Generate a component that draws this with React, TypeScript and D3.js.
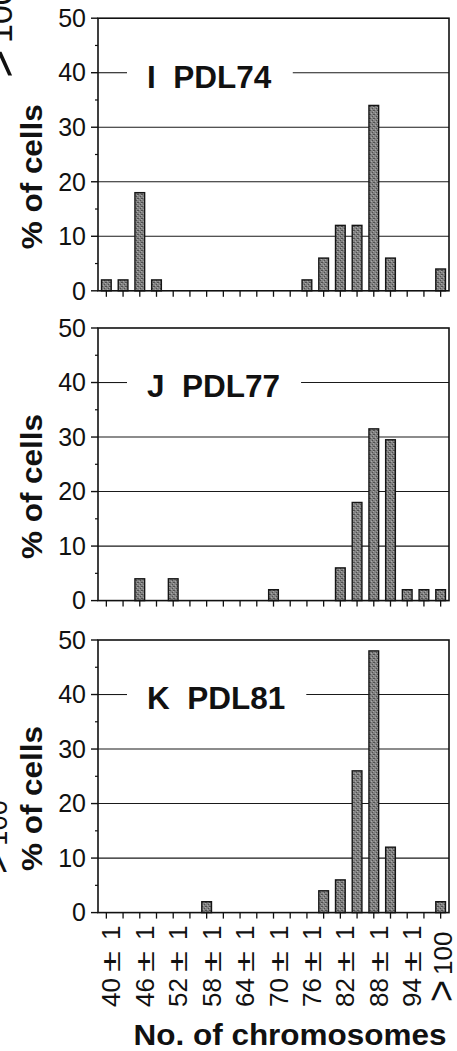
import React, { useEffect, useRef } from "react";
import * as d3 from "d3";

const WIDTH = 457;
const HEIGHT = 1051;
const FONT = "'Liberation Sans', Arial, Helvetica, sans-serif";

// Chromosome-number classes (each class is "n ± 1", last is "> 100")
const categories = [
  "40", "43", "46", "49", "52", "55", "58", "61", "64", "67", "70",
  "73", "76", "79", "82", "85", "88", "91", "94", "97", ">100",
];

// % of cells in each class
const pdl74 = [2, 2, 18, 2, 0, 0, 0, 0, 0, 0, 0, 0, 2, 6, 12, 12, 34, 6, 0, 0, 4];
const pdl77 = [0, 0, 4, 0, 4, 0, 0, 0, 0, 0, 2, 0, 0, 0, 6, 18, 31.5, 29.5, 2, 2, 2];
const pdl81 = [0, 0, 0, 0, 0, 0, 2, 0, 0, 0, 0, 0, 0, 4, 6, 26, 48, 12, 0, 0, 2];

const panelLetters = ["I", "J", "K"];
const panelNames = ["PDL74", "PDL77", "PDL81"];
const panelSeries = [pdl74, pdl77, pdl81];

const yTicks = [0, 10, 20, 30, 40, 50];
const yMinorTicks = [5, 15, 25, 35, 45];
const gridValues = [10, 20, 30];
const labelGridValue = 40;
const yTitle = "% of cells";
const xTitle = "No. of chromosomes";

const panelTops = [18.2, 328, 640];
const plotH = 272.6;
const left = 98;
const right = 449;

type Sel = d3.Selection<any, any, any, any>;

function categoryLabel(parent: Sel, cat: string, baseX: number, bottom: number, scale: number) {
  const g = parent
    .append("g")
    .attr("transform", `translate(${baseX},${bottom}) rotate(-90) scale(${scale})`)
    .attr("font-family", FONT)
    .attr("fill", "#111");
  if (cat.startsWith(">")) {
    g.append("text")
      .attr("x", 0)
      .attr("y", 3)
      .attr("font-size", 40)
      .attr("textLength", 22)
      .attr("lengthAdjust", "spacingAndGlyphs")
      .text(">");
    g.append("text").attr("x", 27).attr("y", 0).attr("font-size", 26).text(cat.slice(1));
  } else {
    g.append("text").attr("x", 0).attr("font-size", 26).text(cat);
    g.append("text")
      .attr("x", 35)
      .attr("font-size", 26)
      .attr("textLength", 21)
      .attr("lengthAdjust", "spacingAndGlyphs")
      .text("±");
    g.append("text").attr("x", 67).attr("font-size", 26).text("1");
  }
}

export default function App() {
  const ref = useRef<SVGSVGElement | null>(null);

  useEffect(() => {
    if (!ref.current) return;
    const svg = d3.select(ref.current);
    svg.selectAll("*").remove();

    // halftone-like fill for the bars
    const defs = svg.append("defs");
    const pat = defs
      .append("pattern")
      .attr("id", "stipple")
      .attr("width", 4)
      .attr("height", 4)
      .attr("patternUnits", "userSpaceOnUse");
    pat.append("rect").attr("width", 4).attr("height", 4).attr("fill", "#828282");
    [[0, 0], [2, 2], [1, 2]].forEach(([px, py]) =>
      pat.append("rect").attr("x", px).attr("y", py).attr("width", 1).attr("height", 1).attr("fill", "#4f4f4f")
    );
    [[3, 1], [1, 3]].forEach(([px, py]) =>
      pat.append("rect").attr("x", px).attr("y", py).attr("width", 1).attr("height", 1).attr("fill", "#a8a8a8")
    );

    const x = d3
      .scaleBand<string>()
      .domain(categories)
      .range([left, right])
      .paddingInner(0.42)
      .paddingOuter(0.21);
    const cx = (c: string) => (x(c) as number) + x.bandwidth() / 2;

    panelSeries.forEach((vals, p) => {
      const top = panelTops[p];
      const y = d3.scaleLinear().domain([0, 50]).range([top + plotH, top]);
      const g = svg.append("g");

      // horizontal gridlines
      gridValues.forEach((v) =>
        g.append("line")
          .attr("x1", left).attr("x2", right)
          .attr("y1", y(v)).attr("y2", y(v))
          .attr("stroke", "#1a1a1a").attr("stroke-width", 1.1)
      );

      // panel label sitting on the 40% gridline
      const label = g
        .append("text")
        .attr("x", 147)
        .attr("y", y(labelGridValue) + 14.8)
        .attr("font-family", FONT)
        .attr("font-weight", "bold")
        .attr("font-size", 31.5)
        .attr("fill", "#111")
        .text(`${panelLetters[p]}\u00a0\u00a0${panelNames[p]}`);
      const bb = (label.node() as SVGTextElement).getBBox();
      g.append("line")
        .attr("x1", left).attr("x2", 127)
        .attr("y1", y(labelGridValue)).attr("y2", y(labelGridValue))
        .attr("stroke", "#1a1a1a").attr("stroke-width", 1.1);
      g.append("line")
        .attr("x1", bb.x + bb.width + 21).attr("x2", right)
        .attr("y1", y(labelGridValue)).attr("y2", y(labelGridValue))
        .attr("stroke", "#1a1a1a").attr("stroke-width", 1.1);

      // bars
      g.selectAll("rect.bar")
        .data(categories.map((c, i) => ({ c, v: vals[i] })).filter((d) => d.v > 0))
        .join("rect")
        .attr("class", "bar")
        .attr("x", (d) => x(d.c) as number)
        .attr("y", (d) => y(d.v))
        .attr("width", x.bandwidth())
        .attr("height", (d) => y(0) - y(d.v))
        .attr("fill", "url(#stipple)")
        .attr("stroke", "#151515")
        .attr("stroke-width", 1.4);

      // frame (axis on left and bottom, border on top and right)
      g.append("rect")
        .attr("x", left).attr("y", top)
        .attr("width", right - left).attr("height", plotH)
        .attr("fill", "none").attr("stroke", "#111").attr("stroke-width", 1.6);

      // y ticks
      yTicks.forEach((v) =>
        g.append("line")
          .attr("x1", left - 7).attr("x2", left)
          .attr("y1", y(v)).attr("y2", y(v))
          .attr("stroke", "#111").attr("stroke-width", 1.4)
      );
      yMinorTicks.forEach((v) =>
        g.append("line")
          .attr("x1", left - 3).attr("x2", left)
          .attr("y1", y(v)).attr("y2", y(v))
          .attr("stroke", "#111").attr("stroke-width", 1.2)
      );
      yTicks.forEach((v) =>
        g.append("text")
          .attr("x", 86)
          .attr("y", y(v))
          .attr("dy", "0.35em")
          .attr("text-anchor", "end")
          .attr("font-family", FONT)
          .attr("font-size", 25)
          .attr("fill", "#111")
          .text(v)
      );

      // x ticks
      categories.forEach((c) =>
        g.append("line")
          .attr("x1", cx(c)).attr("x2", cx(c))
          .attr("y1", y(0)).attr("y2", y(0) + 6)
          .attr("stroke", "#111").attr("stroke-width", 1.3)
      );

      // y title
      g.append("text")
        .attr("transform", `translate(42,${top + 158.5}) rotate(-90)`)
        .attr("text-anchor", "middle")
        .attr("font-family", FONT)
        .attr("font-weight", "bold")
        .attr("font-size", 30)
        .attr("textLength", 145)
        .attr("lengthAdjust", "spacingAndGlyphs")
        .attr("fill", "#111")
        .text(yTitle);
    });

    // category labels under the bottom panel (every other class)
    const labels = svg.append("g");
    categories.forEach((c, i) => {
      if (i % 2 !== 0) return;
      const last = c.startsWith(">");
      categoryLabel(labels, c, cx(c) + (last ? 11 : 14), last ? 1002 : 1007, 1);
    });

    // x title
    svg.append("text")
      .attr("x", 290)
      .attr("y", 1045)
      .attr("text-anchor", "middle")
      .attr("font-family", FONT)
      .attr("font-weight", "bold")
      .attr("font-size", 30)
      .attr("textLength", 313)
      .attr("lengthAdjust", "spacingAndGlyphs")
      .attr("fill", "#111")
      .text(xTitle);

    // neighbouring-column class labels cut by the left edge
    const edge = svg.append("g");
    categoryLabel(edge, categories[categories.length - 1], 12, 78, 1.3);
    categoryLabel(edge, categories[categories.length - 1], 7, 874, 1.05);
  }, []);

  return (
    <svg
      ref={ref}
      width={WIDTH}
      height={HEIGHT}
      viewBox={`0 0 ${WIDTH} ${HEIGHT}`}
      style={{ position: "absolute", left: 0, top: 0, display: "block", background: "#fff" }}
    />
  );
}
